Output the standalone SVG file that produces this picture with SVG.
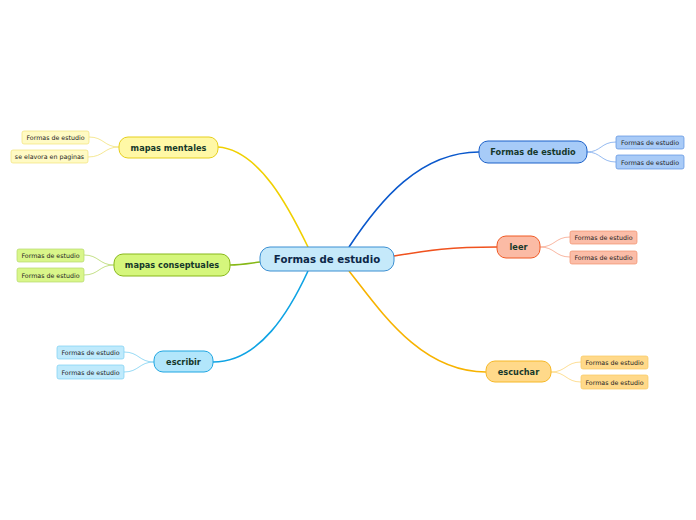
<svg xmlns="http://www.w3.org/2000/svg" width="696" height="520" viewBox="0 0 696 520">
<style>
text{font-family:"DejaVu Sans","Liberation Sans",sans-serif;text-anchor:middle;dominant-baseline:central}
.main{font-size:8.2px;font-weight:bold;fill:#16382a}
.sub{font-size:6.3px;fill:#222}
.c{fill:none}
</style>
<rect width="696" height="520" fill="#fff"/>
<g id="connectors">
<path class="c" d="M308,247 C290,210 260,150 218,147" stroke="#f0d000" stroke-width="1.6"/>
<path class="c" d="M260,262 C245,264 240,265 230,265" stroke="#86b816" stroke-width="1.6"/>
<path class="c" d="M308,271 C290,310 260,362 213,362" stroke="#0ea3e4" stroke-width="1.6"/>
<path class="c" d="M349,247 C380,200 420,152 479,152" stroke="#0a58cc" stroke-width="1.6"/>
<path class="c" d="M394,256 C430,250 450,247 497,247" stroke="#f0521e" stroke-width="1.6"/>
<path class="c" d="M349,271 C380,310 420,372 486,372" stroke="#f7b300" stroke-width="1.6"/>
<g stroke-width="0.8">
<path class="c" d="M119,147 C104,147 104,137 89,137" stroke="#f2e27a"/>
<path class="c" d="M119,147 C104,147 104,157 88,157" stroke="#f2e27a"/>
<path class="c" d="M114,265 C99,265 99,255 84,255" stroke="#b5d86a"/>
<path class="c" d="M114,265 C99,265 99,275 84,275" stroke="#b5d86a"/>
<path class="c" d="M154,362 C139,362 139,352 124,352" stroke="#7cd0f2"/>
<path class="c" d="M154,362 C139,362 139,372 124,372" stroke="#7cd0f2"/>
<path class="c" d="M587,152 C601,152 601,142 616,142" stroke="#7aa8ec"/>
<path class="c" d="M587,152 C601,152 601,162 616,162" stroke="#7aa8ec"/>
<path class="c" d="M540,247 C555,247 555,237 570,237" stroke="#f7a58a"/>
<path class="c" d="M540,247 C555,247 555,257 570,257" stroke="#f7a58a"/>
<path class="c" d="M551,372 C566,372 566,362 581,362" stroke="#fcd57a"/>
<path class="c" d="M551,372 C566,372 566,382 581,382" stroke="#fcd57a"/>
</g>
</g>
<g id="center">
<rect x="260" y="247" width="134" height="24" rx="10" fill="#c5e9fa" stroke="#3b8fd2" stroke-width="1"/>
<text x="327" y="259" style="font-size:10.2px;font-weight:bold;fill:#0c2748">Formas de estudio</text>
</g>
<g id="mapas-mentales">
<rect x="119" y="137" width="99" height="21" rx="9" fill="#fff8a6" stroke="#e6cf1c"/>
<text class="main" x="168.5" y="147.5">mapas mentales</text>
</g>
<g id="mm-1"><rect x="22" y="131" width="67" height="13" rx="2" fill="#fffac4" stroke="#f2e27a" stroke-width="0.7"/><text class="sub" x="55.5" y="137.5">Formas de estudio</text></g>
<g id="mm-2"><rect x="11" y="150" width="77" height="13" rx="2" fill="#fffac4" stroke="#f2e27a" stroke-width="0.7"/><text class="sub" x="49.5" y="156.5">se elavora en paginas</text></g>
<g id="mapas-conseptuales">
<rect x="114" y="254" width="116" height="22" rx="9" fill="#d5f67c" stroke="#88b81a"/>
<text class="main" x="172" y="265">mapas conseptuales</text>
</g>
<g id="mc-1"><rect x="17" y="249" width="67" height="13" rx="2" fill="#d9f68a" stroke="#b5d86a" stroke-width="0.7"/><text class="sub" x="50.5" y="255.5">Formas de estudio</text></g>
<g id="mc-2"><rect x="17" y="268" width="67" height="14" rx="2" fill="#d9f68a" stroke="#b5d86a" stroke-width="0.7"/><text class="sub" x="50.5" y="275">Formas de estudio</text></g>
<g id="escribir">
<rect x="154" y="351" width="59" height="21" rx="9" fill="#b2e6fb" stroke="#1fa6e2"/>
<text class="main" x="183.5" y="361.5">escribir</text>
</g>
<g id="es-1"><rect x="57" y="346" width="67" height="13" rx="2" fill="#bfeafc" stroke="#7cd0f2" stroke-width="0.7"/><text class="sub" x="90.5" y="352.5">Formas de estudio</text></g>
<g id="es-2"><rect x="57" y="365" width="67" height="14" rx="2" fill="#bfeafc" stroke="#7cd0f2" stroke-width="0.7"/><text class="sub" x="90.5" y="372">Formas de estudio</text></g>
<g id="formas-de-estudio">
<rect x="479" y="141" width="108" height="22" rx="9" fill="#a7cbf8" stroke="#1b60c9"/>
<text class="main" x="533" y="152">Formas de estudio</text>
</g>
<g id="fe-1"><rect x="616" y="136" width="68" height="13" rx="2" fill="#a9cbf7" stroke="#5a8fe0" stroke-width="0.7"/><text class="sub" x="650" y="142.5">Formas de estudio</text></g>
<g id="fe-2"><rect x="616" y="155" width="68" height="14" rx="2" fill="#a9cbf7" stroke="#5a8fe0" stroke-width="0.7"/><text class="sub" x="650" y="162">Formas de estudio</text></g>
<g id="leer">
<rect x="497" y="236" width="43" height="22" rx="9" fill="#fbbba5" stroke="#f05a25"/>
<text class="main" x="518.5" y="247">leer</text>
</g>
<g id="le-1"><rect x="570" y="231" width="67" height="13" rx="2" fill="#fbbda8" stroke="#f28f6c" stroke-width="0.7"/><text class="sub" x="603.5" y="237.5">Formas de estudio</text></g>
<g id="le-2"><rect x="570" y="251" width="67" height="13" rx="2" fill="#fbbda8" stroke="#f28f6c" stroke-width="0.7"/><text class="sub" x="603.5" y="257.5">Formas de estudio</text></g>
<g id="escuchar">
<rect x="486" y="361" width="65" height="21" rx="9" fill="#ffd98a" stroke="#f6b826"/>
<text class="main" x="518.5" y="371.5">escuchar</text>
</g>
<g id="ec-1"><rect x="581" y="356" width="67" height="13" rx="2" fill="#ffd98a" stroke="#f8c860" stroke-width="0.7"/><text class="sub" x="614.5" y="362.5">Formas de estudio</text></g>
<g id="ec-2"><rect x="581" y="375" width="67" height="14" rx="2" fill="#ffd98a" stroke="#f8c860" stroke-width="0.7"/><text class="sub" x="614.5" y="382">Formas de estudio</text></g>
</svg>
